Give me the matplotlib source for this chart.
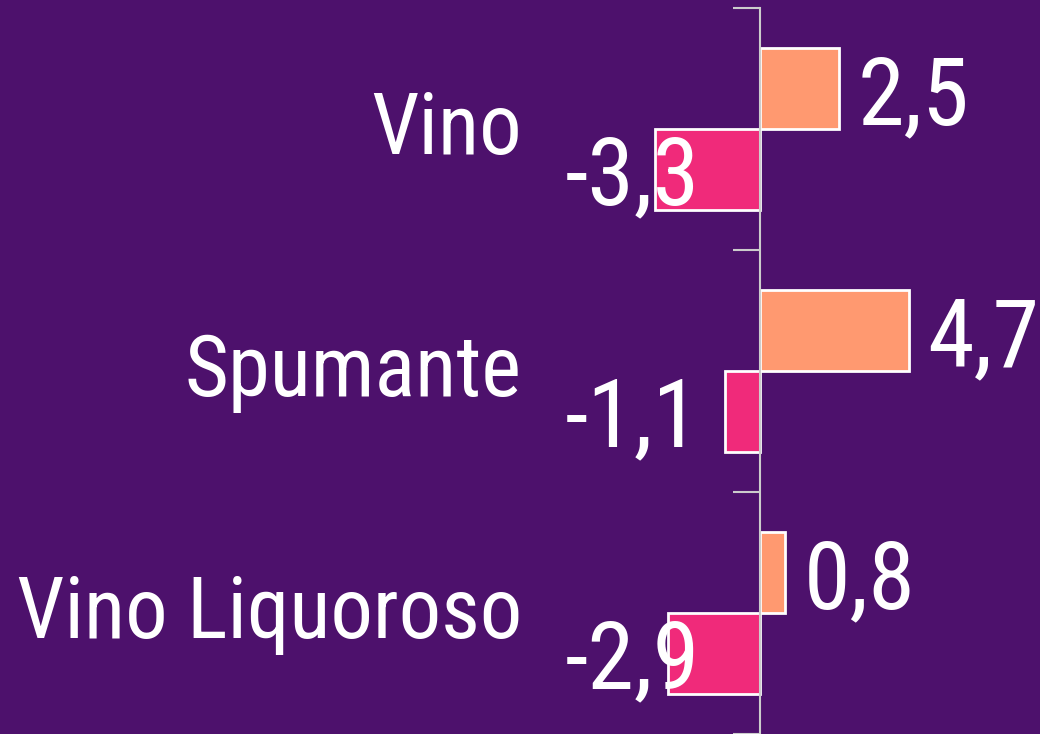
import matplotlib
matplotlib.use('Agg')
import matplotlib.pyplot as plt
import numpy as np

categories = ['Vino', 'Spumante', 'Vino Liquoroso']
crescita = [2.5, 4.7, 0.8]
calo = [-3.3, -1.1, -2.9]

BG = '#4D116C'
ORANGE = '#FF9970'
PINK = '#F02A7A'
AXIS = '#CCCCCC'

plt.rcParams['font.family'] = ['Roboto Condensed', 'Roboto', 'DejaVu Sans']

fig = plt.figure(figsize=(10.4, 7.34), dpi=100, facecolor=BG)
ax = fig.add_axes([560 / 1040, 0, 480 / 1040, 726 / 734])
ax.set_facecolor(BG)

y = np.arange(len(categories))
h = 1 / 3

ax.barh(y - h / 2, crescita, height=h, color=ORANGE, edgecolor='white', linewidth=2)
ax.barh(y + h / 2, calo, height=h, color=PINK, edgecolor='white', linewidth=2)

fmt = lambda v: f'{v:.1f}'.replace('.', ',')
for yi, v in zip(y, crescita):
    ax.annotate(fmt(v), (v, yi - h / 2), xytext=(13, 0), textcoords='offset points',
                ha='left', va='center_baseline', color='white', fontsize=68)
for yi, v in zip(y, calo):
    ax.text(-1.88, yi + h / 2, fmt(v), ha='right', va='center_baseline',
            color='white', fontsize=68)

# category names, right-aligned left of the axis
for yi, name in zip(y, categories):
    ax.annotate(name, (-38 / 480, yi), xycoords=('axes fraction', 'data'),
                xytext=(0, 5), textcoords='offset points',
                ha='right', va='center_baseline', color='white', fontsize=61)

ax.set_xlim(-200 / 31.7, 280 / 31.7)
ax.set_ylim(len(categories) - 0.5, -0.5)

ax.set_yticks(np.arange(len(categories) + 1) - 0.5)
ax.set_yticklabels([])
ax.tick_params(axis='y', which='major', length=19.5, width=1.5, color=AXIS)
ax.set_xticks([])

for s in ['top', 'right', 'bottom']:
    ax.spines[s].set_visible(False)
ax.spines['left'].set_color(AXIS)
ax.spines['left'].set_linewidth(1.5)
ax.spines['left'].set_position(('data', 0))

fig.savefig('out.png', dpi=100, facecolor=BG)
